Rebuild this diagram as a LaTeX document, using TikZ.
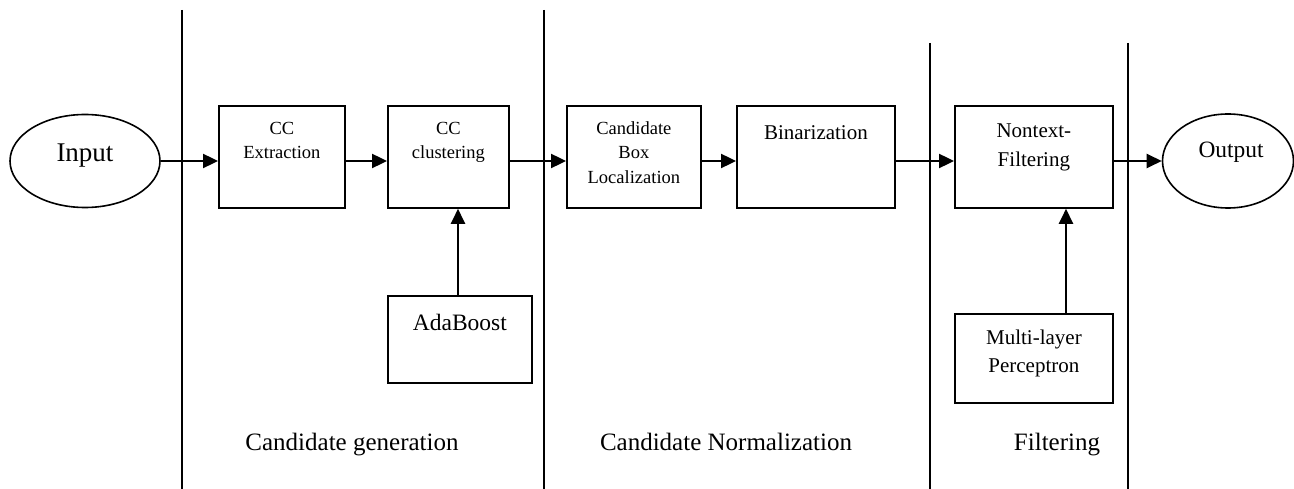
\documentclass[tikz,border=0pt]{standalone}
\usepackage{fontspec}
\setmainfont{Liberation Serif}
\usetikzlibrary{shapes.geometric,arrows.meta}
\tikzset{
  box/.style={draw, line width=1.8pt, inner sep=0pt, anchor=north west},
  oval/.style={draw, ellipse, line width=1.6pt, inner sep=0pt},
  sep/.style={line width=1.7pt},
  arr/.style={line width=2.4pt, -{Triangle[length=15pt,width=14pt]}},
  btxt/.style={inner sep=0pt, anchor=north, align=center},
  lab/.style={inner sep=0pt, anchor=base, font=\fontsize{25}{30}\selectfont}
}
\begin{document}
\begin{tikzpicture}[x=1pt,y=-1pt]
\useasboundingbox (0,0) rectangle (1294,489);
% separators
\coordinate (s1t) at (182,10);  \coordinate (s1b) at (182,489);
\coordinate (s2t) at (544,10);  \coordinate (s2b) at (544,489);
\coordinate (s3t) at (930,43);  \coordinate (s3b) at (930,489);
\coordinate (s4t) at (1128,43); \coordinate (s4b) at (1128,489);
\draw[sep] (s1t) -- (s1b);
\draw[sep] (s2t) -- (s2b);
\draw[sep] (s3t) -- (s3b);
\draw[sep] (s4t) -- (s4b);
% ellipses
\node[oval, minimum width=150pt, minimum height=93pt] (in) at (85,161) {};
\node[inner sep=0pt, anchor=base, font=\fontsize{27}{32}\selectfont] (intxt) at (85,162) {Input};
\node[oval, minimum width=131pt, minimum height=94pt] (out) at (1228,161) {};
\node[inner sep=0pt, anchor=base, font=\fontsize{23.4}{28}\selectfont] (outtxt) at (1231,158) {Output};
% boxes
\node[box, minimum width=126pt, minimum height=102pt] (b1) at (218,105) {};
\node[btxt, font=\fontsize{18.5}{24}\selectfont, yshift=-17pt] (t1) at (b1.north) {CC\\Extraction};
\node[box, minimum width=121pt, minimum height=102pt] (b2) at (387,105) {};
\node[btxt, font=\fontsize{18.5}{24}\selectfont, yshift=-17pt] (t2) at (b2.north) {CC\\clustering};
\node[box, minimum width=134pt, minimum height=102pt] (b3) at (566,105) {};
\node[btxt, font=\fontsize{18.5}{24.5}\selectfont, yshift=-16pt] (t3) at (b3.north) {Candidate\\Box\\Localization};
\node[box, minimum width=158pt, minimum height=102pt] (b4) at (736,105) {};
\node[btxt, font=\fontsize{21}{27}\selectfont, yshift=-20pt] (t4) at (b4.north) {Binarization};
\node[box, minimum width=158pt, minimum height=102pt] (b5) at (954,105) {};
\node[btxt, font=\fontsize{21}{29}\selectfont, yshift=-19pt] (t5) at (b5.north) {Nontext-\\Filtering};
\node[box, minimum width=144pt, minimum height=87pt] (ada) at (387,295) {};
\node[btxt, font=\fontsize{23.5}{28}\selectfont, yshift=-19pt] (t6) at (ada.north) {AdaBoost};
\node[box, minimum width=158pt, minimum height=89pt] (mlp) at (954,313) {};
\node[btxt, font=\fontsize{21}{28}\selectfont, yshift=-17pt] (t7) at (mlp.north) {Multi-layer\\Perceptron};
% arrows
\draw[arr] (in.east) -- (in.east -| b1.west);
\draw[arr] (b1.east |- in.east) -- (b2.west |- in.east);
\draw[arr] (b2.east |- in.east) -- (b3.west |- in.east);
\draw[arr] (b3.east |- in.east) -- (b4.west |- in.east);
\draw[arr] (b4.east |- in.east) -- (b5.west |- in.east);
\draw[arr] (b5.east |- in.east) -- (out.west);
\coordinate (ax) at (458,0);
\coordinate (mx) at (1066,0);
\draw[arr] (ada.north -| ax) -- (b2.south -| ax);
\draw[arr] (mlp.north -| mx) -- (b5.south -| mx);
% phase labels
\node[lab] (l1) at (352,450) {Candidate generation};
\node[lab] (l2) at (726,450) {Candidate Normalization};
\node[lab] (l3) at (1057,450) {Filtering};
\end{tikzpicture}
\end{document}
